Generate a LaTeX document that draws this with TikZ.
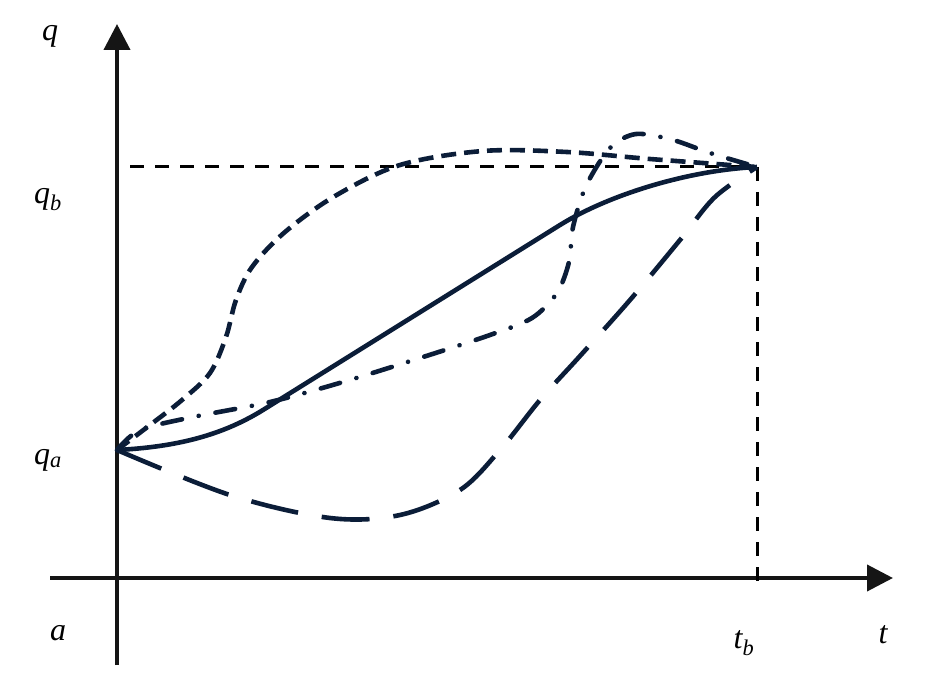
\documentclass[tikz,border=0pt]{standalone}
\usepackage{fontspec}
\setmainfont{Liberation Serif}
\usetikzlibrary{arrows.meta}
\definecolor{navy}{HTML}{0B1D38}
\definecolor{axisc}{HTML}{151515}
\tikzset{
  axisline/.style={line width=4pt, draw=axisc, -{Triangle[length=26pt,width=26pt]}},
  refline/.style={line width=3pt, draw=black, dash pattern=on 14pt off 11pt},
  curve/.style={line width=4.6pt, draw=navy},
  shortdash/.style={curve, dash pattern=on 15pt off 8pt},
  dashdot/.style={curve, line cap=round, dash pattern=on 20pt off 17pt on 0.1pt off 17pt},
  longdash/.style={curve, dash pattern=on 48pt off 24pt},
  lbl/.style={font=\fontsize{32}{32}\selectfont\itshape, inner sep=0pt}
}
\begin{document}
\begin{tikzpicture}[x=1pt,y=-1pt]
\useasboundingbox (0,0) rectangle (930,674);
% axes
\coordinate (ybot) at (117,665);
\coordinate (ytop) at (117,24);
\coordinate (xleft) at (50,578);
\coordinate (xright) at (893,578);
\draw[axisline] (ybot) -- (ytop);
\draw[axisline] (xleft) -- (xright);
% key points
\coordinate (qa) at (117,450);
\coordinate (qb) at (757,167);
\coordinate (qbaxis) at (130,167);
\coordinate (tbaxis) at (757,592);
\draw[refline] (qbaxis) -- (qb);
\draw[refline] (qb) -- (tbaxis);
% curves
\draw[shortdash] plot[smooth, tension=0.55] coordinates {(qa) (150,425) (182,400) (210,373) (226,337) (236,300) (252,267) (285,232) (335,196) (400,165) (483,151) (567,152) (650,159) (qb)};
\draw[curve] (qa) .. controls (175,447) and (221,436) .. (263,410) -- (560,225) .. controls (610,194) and (690,170) .. (qb);
\draw[dashdot] plot[smooth, tension=0.5] coordinates {(qa) (140,430) (193,417) (270,402) (343,382) (420,358) (490,335) (532,318) (557,293) (569,262) (573,227) (586,186) (610,148) (636,134) (673,140) (710,153) (qb)};
\draw[longdash] plot[smooth, tension=0.55] coordinates {(qa) (230,495) (330,518) (400,515) (460,490) (500,450) (540,400) (580,356) (630,300) (680,240) (715,197) (qb)};
% labels
\node[lbl] (lq) at (50,36) {q};
\node[lbl] (lqb) at (48,200) {q\textsubscript{b}};
\node[lbl] (lqa) at (48,460) {q\textsubscript{a}};
\node[lbl] (la) at (58,633) {a};
\node[lbl] (ltb) at (744,643) {t\textsubscript{b}};
\node[lbl] (lt) at (883,635) {t};
\end{tikzpicture}
\end{document}
